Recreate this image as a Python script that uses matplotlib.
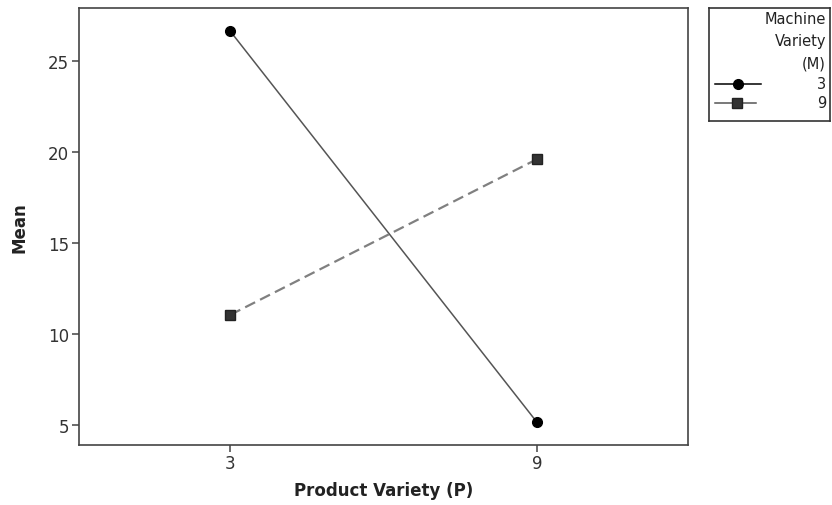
import matplotlib
matplotlib.use("Agg")
import matplotlib.pyplot as plt
from matplotlib.lines import Line2D

plt.rcParams['font.family'] = ['DejaVu Sans']

# Interaction plot: mean response by product variety, one line per machine variety
product_variety = [3, 9]
machine_levels = ["3", "9"]
mean_m3 = [26.65, 5.15]
mean_m9 = [11.06, 19.62]

fig = plt.figure(figsize=(8.32, 5.06), dpi=100)
ax = fig.add_axes([0.095, 0.1192, 0.7323, 0.863])

ax.plot(product_variety, mean_m3, color="#555555", lw=1.1, ls="-",
        marker="o", ms=7, mfc="black", mec="black", zorder=3)
ax.plot(product_variety, mean_m9, color="#808080", lw=1.6, ls=(0, (5, 2.5)),
        marker="s", ms=7, mfc="#333333", mec="#222222", zorder=3)

ax.set_xlim(0.04, 11.96)
ax.set_ylim(3.92, 27.93)
ax.set_xticks(product_variety)
ax.set_xticklabels([str(v) for v in product_variety])
ax.set_yticks([5, 10, 15, 20, 25])

for s in ax.spines.values():
    s.set_color("#444444")
    s.set_linewidth(1.2)
ax.tick_params(direction="out", length=5, width=1.1, color="#444444",
               labelsize=12, labelcolor="#333333", pad=2)

ax.set_xlabel("Product Variety (P)", fontsize=12, fontweight="bold",
              color="#222222", labelpad=6)
ax.set_ylabel("Mean", fontsize=12, fontweight="bold", color="#222222",
              labelpad=14)

# Legend panel
lax = fig.add_axes([709 / 832, 1 - 122 / 506, 121 / 832, 113 / 506])
lax.set_xlim(0, 121)
lax.set_ylim(113, 0)
lax.set_xticks([])
lax.set_yticks([])
for s in lax.spines.values():
    s.set_color("#333333")
    s.set_linewidth(1.2)

for i, t in enumerate(["Machine", "Variety", "(M)"]):
    lax.text(117, 11 + i * 22, t, ha="right", va="center", fontsize=10.5,
             color="#222222")

lax.add_line(Line2D([6, 29, 52], [76, 76, 76], color="black", lw=1.1,
                    marker="o", markevery=[1], ms=7,
                    mfc="black", mec="black"))
lax.add_line(Line2D([6, 28, 47], [95, 95, 95], color="#555555", lw=1.1,
                    marker="s", markevery=[1], ms=7,
                    mfc="#333333", mec="#222222"))
lax.text(117, 76, machine_levels[0], ha="right", va="center", fontsize=10.5,
         color="#222222")
lax.text(117, 95, machine_levels[1], ha="right", va="center", fontsize=10.5,
         color="#222222")

fig.savefig("out.png", dpi=100, facecolor="white")
